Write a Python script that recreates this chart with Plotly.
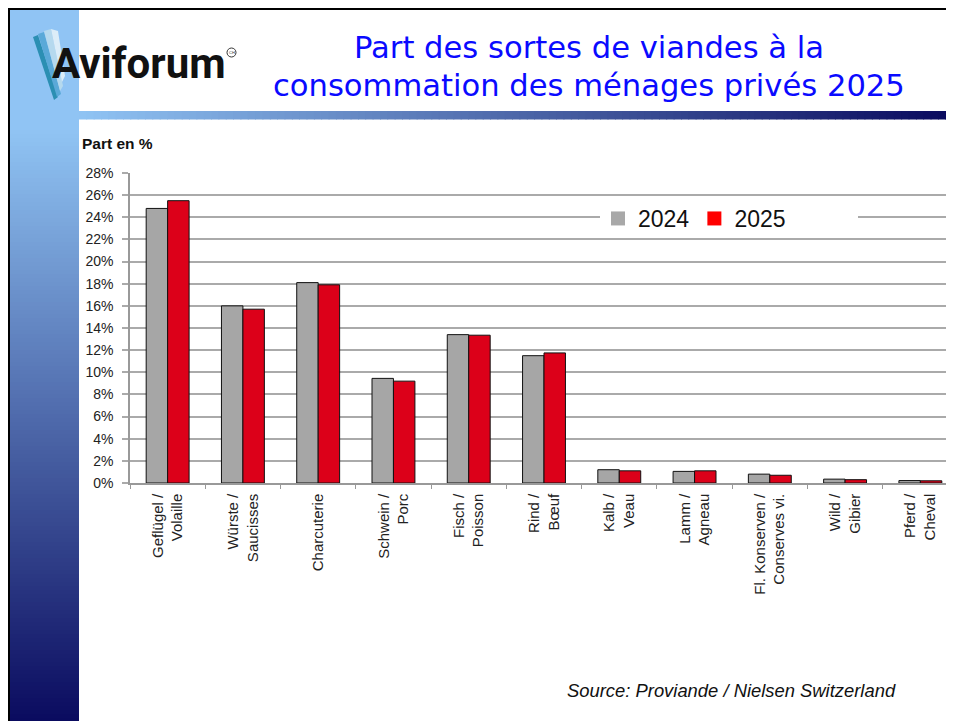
import plotly.graph_objects as go

# ---------------- data ----------------
categories = ["Geflügel /<br>Volaille", "Würste /<br>Saucisses", "Charcuterie",
              "Schwein /<br>Porc", "Fisch /<br>Poisson", "Rind /<br>Bœuf",
              "Kalb /<br>Veau", "Lamm /<br>Agneau", "Fl. Konserven /<br>Conserves vi.",
              "Wild /<br>Gibier", "Pferd /<br>Cheval"]
share_2024 = [24.8, 16.0, 18.1, 9.45, 13.4, 11.5, 1.2, 1.05, 0.8, 0.35, 0.22]
share_2025 = [25.5, 15.7, 17.9, 9.2, 13.35, 11.75, 1.1, 1.1, 0.7, 0.3, 0.2]
series_names = ["2024", "2025"]
y_ticks = list(range(0, 30, 2))
y_tick_labels = [f"{v}%" for v in y_ticks]

# ---------------- geometry helpers (page pixels -> paper) ----------------
WIDTH, HEIGHT = 954, 721
OFF = 8  # page body margin
L, R, T, B = 122, 4, 165, 246
PW = WIDTH - L - R
PH = HEIGHT - T - B


def X(px):
    return (px - OFF - L) / PW


def Y(py):
    return (HEIGHT - B - (py - OFF)) / PH


def lerp(c1, c2, t):
    return "rgb(%d,%d,%d)" % tuple(round(a + (b - a) * t) for a, b in zip(c1, c2))


GRAY = "#a6a6a6"
RED = "#dc0019"
LIGHT = (144, 196, 244)
DARK = (8, 8, 92)

fig = go.Figure()
fig.add_trace(go.Bar(x=categories, y=share_2024, name=series_names[0], showlegend=False,
                     marker=dict(color=GRAY, line=dict(color="#111", width=1))))
fig.add_trace(go.Bar(x=categories, y=share_2025, name=series_names[1], showlegend=False,
                     marker=dict(color=RED, line=dict(color="#111", width=1))))
# legend entries (plain squares, no outline)
fig.add_trace(go.Scatter(x=[None], y=[None], mode="markers", name=series_names[0],
                         marker=dict(symbol="square", size=14, color="#a8a8a8", line=dict(width=0))))
fig.add_trace(go.Scatter(x=[None], y=[None], mode="markers", name=series_names[1],
                         marker=dict(symbol="square", size=14, color="#ff0000", line=dict(width=0))))

shapes = []
# left vertical gradient bar
n = 150
y0, y1 = 130, 730
shapes.append(dict(type="rect", xref="paper", yref="paper", x0=X(10), x1=X(79), y0=Y(10), y1=Y(y0 + 1),
                   fillcolor=lerp(LIGHT, LIGHT, 0), line=dict(width=0), layer="below"))
for i in range(n):
    a = y0 + (y1 - y0) * i / n
    b = y0 + (y1 - y0) * (i + 1) / n
    shapes.append(dict(type="rect", xref="paper", yref="paper", x0=X(10), x1=X(79),
                       y0=Y(a), y1=Y(b + 0.8), fillcolor=lerp(LIGHT, DARK, (i + 0.5) / n),
                       line=dict(width=0), layer="below"))
# horizontal gradient bar under the title
m = 120
x0, x1 = 79, 960
for i in range(m):
    a = x0 + (x1 - x0) * i / m
    b = x0 + (x1 - x0) * (i + 1) / m
    shapes.append(dict(type="rect", xref="paper", yref="paper", x0=X(a), x1=X(b + 0.8),
                       y0=Y(111), y1=Y(119.5), fillcolor=lerp(LIGHT, DARK, (i + 0.5) / m),
                       line=dict(width=0), layer="below"))
# black border (top and left)
shapes.append(dict(type="rect", xref="paper", yref="paper", x0=X(7), x1=X(962), y0=Y(7), y1=Y(10),
                   fillcolor="black", line=dict(width=0)))
shapes.append(dict(type="rect", xref="paper", yref="paper", x0=X(7), x1=X(10), y0=Y(7), y1=Y(730),
                   fillcolor="black", line=dict(width=0)))
# feather of the logo
feather = [
    ("#2b8fb3", [(33, 37), (38, 35), (58, 97), (54, 100)]),
    ("#5aa9d8", [(38, 34), (44, 32), (61, 94), (57, 97)]),
    ("#b5d9ee", [(44, 31), (51, 29), (63, 86), (60, 91)]),
    ("#dcedf8", [(51, 29), (58, 31), (65, 76), (62, 82)]),
]
for col, pts in feather:
    path = "M " + " L ".join(f"{X(px)},{Y(py)}" for px, py in pts) + " Z"
    shapes.append(dict(type="path", xref="paper", yref="paper", path=path,
                       fillcolor=col, line=dict(width=0)))
# registered mark circle
shapes.append(dict(type="circle", xref="paper", yref="paper", x0=X(227), x1=X(236), y0=Y(48), y1=Y(57),
                   line=dict(color="#333", width=1)))
# white box behind the legend
shapes.append(dict(type="rect", xref="paper", yref="paper", x0=X(600), x1=X(858), y0=Y(200), y1=Y(237),
                   fillcolor="white", line=dict(width=0), layer="above"))

annotations = [
    dict(text="Part des sortes de viandes à la", x=X(589), y=Y(47.5), xref="paper", yref="paper",
         xanchor="center", yanchor="middle", showarrow=False,
         font=dict(family="DejaVu Sans", size=30.6, color="#0a0aff")),
    dict(text="consommation des ménages privés 2025", x=X(589), y=Y(86), xref="paper", yref="paper",
         xanchor="center", yanchor="middle", showarrow=False,
         font=dict(family="DejaVu Sans", size=30.6, color="#0a0aff")),
    dict(text="<b>Aviforum</b>", x=X(50), y=Y(63), xref="paper", yref="paper",
         xanchor="left", yanchor="middle", showarrow=False,
         font=dict(family="Roboto", size=42, color="#111")),
    dict(text="CH", x=X(231.5), y=Y(52.5), xref="paper", yref="paper",
         xanchor="center", yanchor="middle", showarrow=False,
         font=dict(family="Liberation Sans", size=4, color="#333")),
    dict(text="<b>Part en %</b>", x=X(80), y=Y(143), xref="paper", yref="paper",
         xanchor="left", yanchor="middle", showarrow=False,
         font=dict(family="Liberation Sans", size=15.5, color="#111")),
    dict(text="<i>Source: Proviande / Nielsen Switzerland</i>", x=X(565), y=Y(690), xref="paper",
         yref="paper", xanchor="left", yanchor="middle", showarrow=False,
         font=dict(family="Liberation Sans", size=18.4, color="#111")),
]

fig.update_layout(
    width=WIDTH, height=HEIGHT,
    margin=dict(l=L, r=R, t=T, b=B, pad=0),
    paper_bgcolor="white", plot_bgcolor="white",
    barmode="group", bargap=0.43, bargroupgap=0,
    font=dict(family="Liberation Sans", size=14, color="#222"),
    shapes=shapes, annotations=annotations,
    legend=dict(orientation="h", x=X(598), y=Y(218.5), xanchor="left", yanchor="middle",
                bgcolor="rgba(0,0,0,0)", font=dict(family="Liberation Sans", size=23, color="#111"),
                itemsizing="trace"),
    xaxis=dict(type="category", range=[-0.5, 10.5], showline=True, linecolor="#999", linewidth=1.5,
               ticks="outside", tickson="boundaries", ticklen=4, tickcolor="#999",
               tickangle=-90, tickfont=dict(family="Liberation Sans", size=15, color="#222"),
               ticklabelstandoff=3, showgrid=False),
    yaxis=dict(range=[0, 28], tickvals=y_ticks, ticktext=y_tick_labels, showline=True,
               linecolor="#999", linewidth=1.5, ticks="outside", ticklen=6, tickcolor="#aaa",
               tickwidth=1.5, showgrid=True, gridcolor="#aaa", gridwidth=1.5, zeroline=False,
               tickfont=dict(family="Liberation Sans", size=14, color="#222"),
               ticklabelstandoff=6),
)

fig.write_html("out.html")
